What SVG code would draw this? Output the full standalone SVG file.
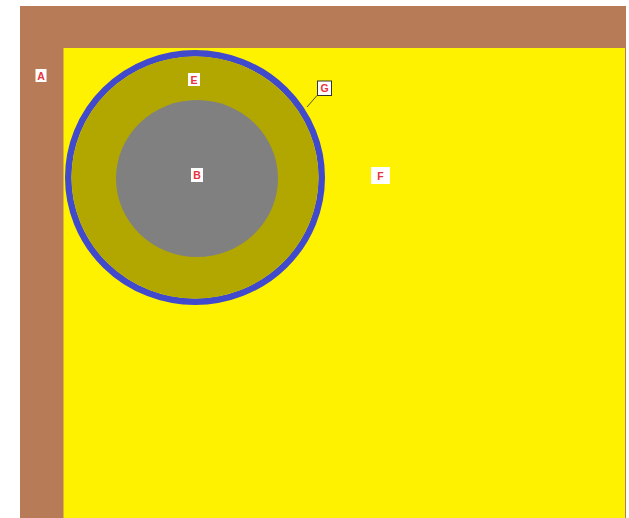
<svg xmlns="http://www.w3.org/2000/svg" width="629" height="518" viewBox="0 0 629 518">
<style>
.lb{fill:#ffffff}
.tx{font-family:"Liberation Sans",Arial,sans-serif;font-weight:bold;font-size:10.5px;fill:#e8323c;text-anchor:middle;dominant-baseline:central}
</style>
<rect width="629" height="518" fill="#ffffff"/>
<g id="A">
<rect x="20" y="6" width="606" height="512" fill="#b87b57"/>
<rect x="35.5" y="69" width="11" height="13" class="lb"/>
<text x="41" y="75.5" class="tx">A</text>
</g>
<g id="F">
<rect x="63.5" y="48" width="561.5" height="470" fill="#fff200"/>
<rect x="371" y="167" width="19" height="17" class="lb"/>
<text x="380.5" y="175.5" class="tx">F</text>
</g>
<g id="G">
<ellipse cx="195" cy="177.5" rx="126.75" ry="124.25" fill="none" stroke="#4149cc" stroke-width="6.5"/>
</g>
<g id="E">
<ellipse cx="195" cy="177.5" rx="123.5" ry="121" fill="#b1a700"/>
<rect x="188" y="73" width="12" height="13" class="lb"/>
<text x="194" y="79.5" class="tx">E</text>
</g>
<g id="B">
<ellipse cx="197" cy="178.5" rx="81" ry="78.5" fill="#808080"/>
<rect x="191" y="168" width="12" height="14" class="lb"/>
<text x="197" y="175" class="tx">B</text>
</g>
<g id="connectors">
<line x1="317" y1="95.5" x2="307" y2="107" stroke="#555533" stroke-width="1"/>
</g>
<g id="G-label">
<rect x="317.5" y="81" width="14" height="14.5" fill="#ffffff" stroke="#333333" stroke-width="1"/>
<text x="324.5" y="88.3" class="tx">G</text>
</g>
</svg>
